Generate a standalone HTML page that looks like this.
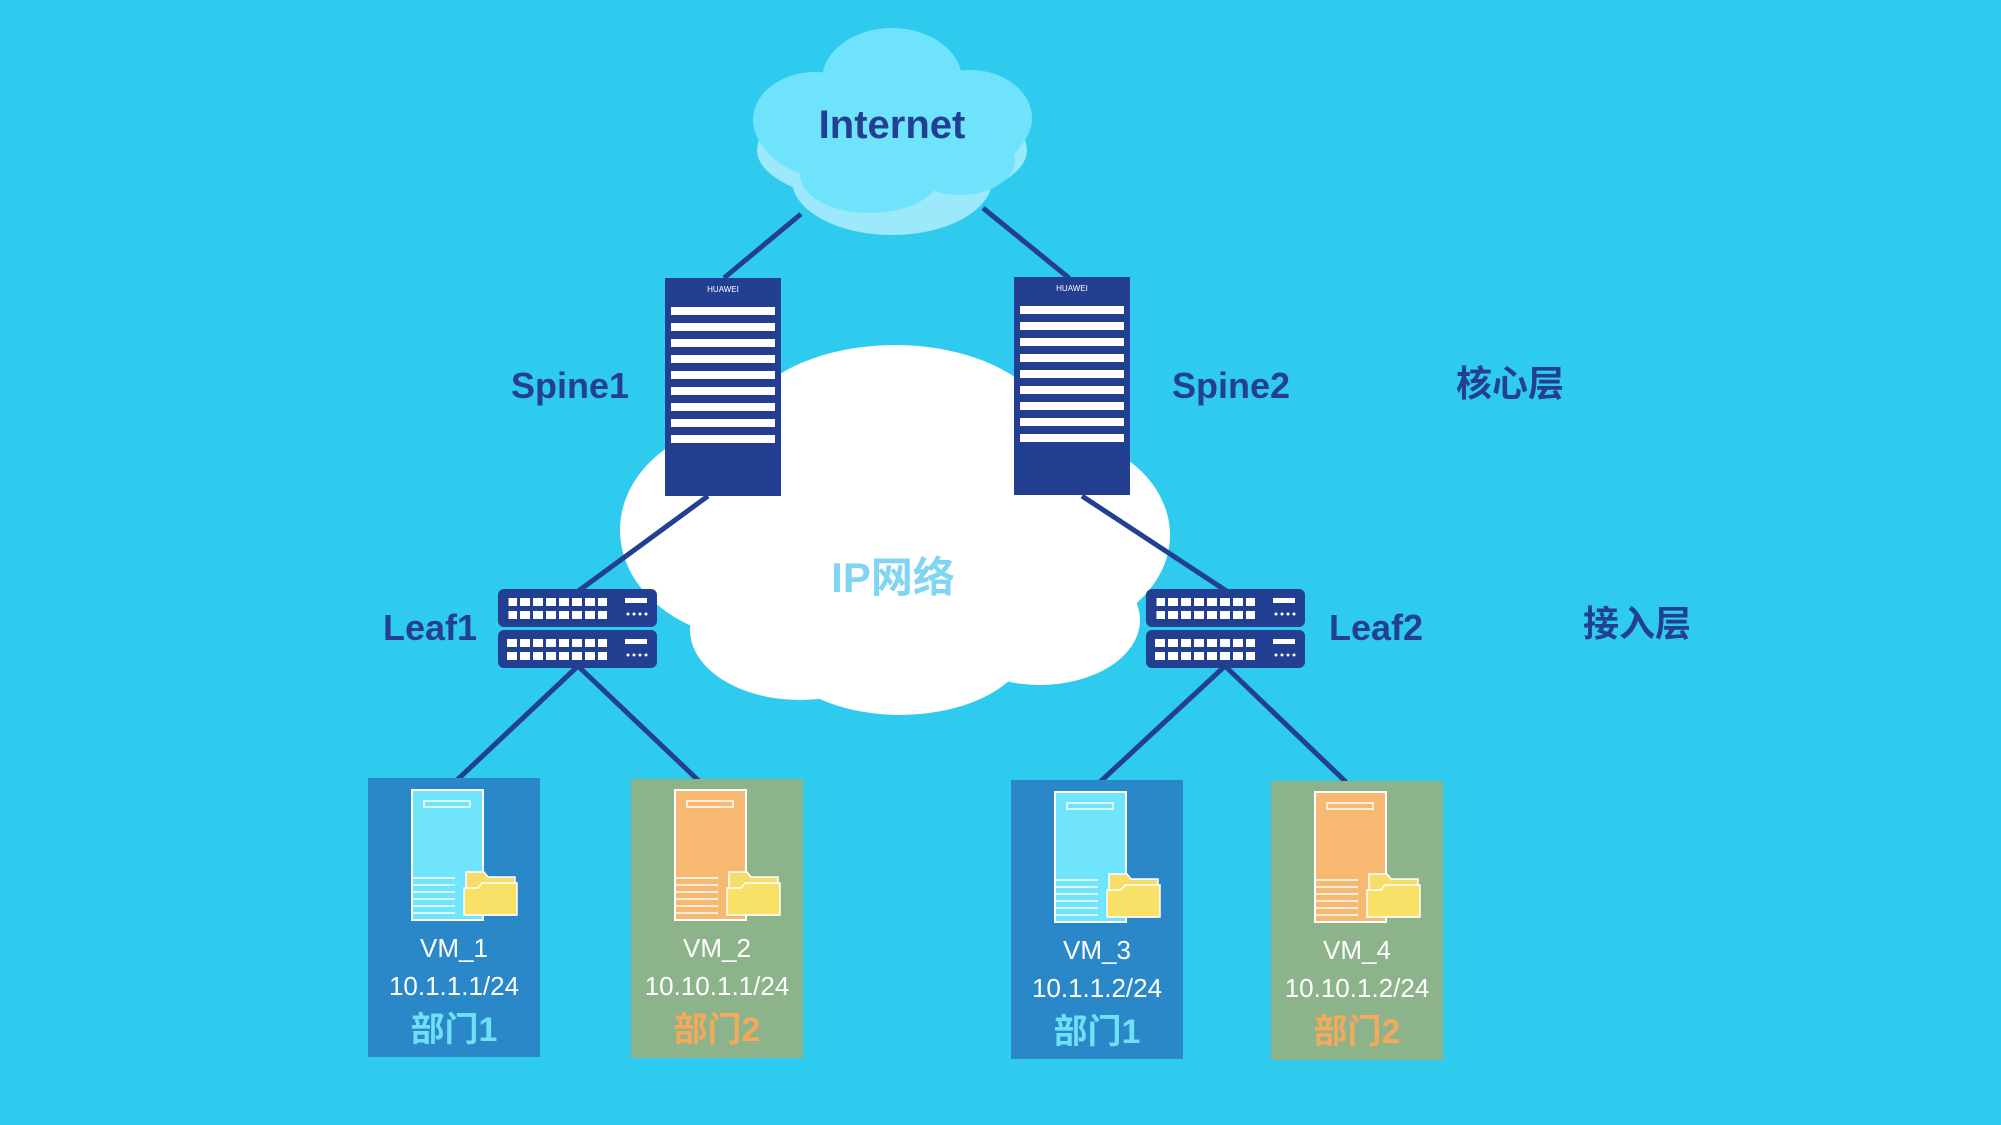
<!DOCTYPE html>
<html><head><meta charset="utf-8"><style>
html,body{margin:0;padding:0;background:#2ecbef;}
svg{display:block}
text{font-family:"Liberation Sans","Noto Sans CJK SC",sans-serif;}
</style></head><body>
<svg width="2001" height="1125" viewBox="0 0 2001 1125">
<rect width="2001" height="1125" fill="#2ecbef"/>
<!-- IP cloud -->
<g fill="#ffffff">
<ellipse cx="895" cy="440" rx="160" ry="95"/>
<ellipse cx="760" cy="530" rx="140" ry="110"/>
<ellipse cx="1030" cy="535" rx="140" ry="105"/>
<ellipse cx="800" cy="630" rx="110" ry="70"/>
<ellipse cx="900" cy="640" rx="130" ry="75"/>
<ellipse cx="1040" cy="620" rx="100" ry="65"/>
<ellipse cx="895" cy="530" rx="220" ry="150"/>
</g>
<text x="893" y="592" font-size="42" fill="#7fd5f2" text-anchor="middle" font-weight="bold">IP网络</text>
<!-- Internet cloud -->
<g fill="#9be9fb">
<ellipse cx="892" cy="150" rx="135" ry="55"/>
<ellipse cx="892" cy="180" rx="100" ry="55"/>
</g>
<g fill="#6fe3fb">
<ellipse cx="892" cy="80" rx="70" ry="52"/>
<ellipse cx="815" cy="120" rx="62" ry="48"/>
<ellipse cx="970" cy="118" rx="62" ry="48"/>
<ellipse cx="892" cy="138" rx="130" ry="50"/>
<ellipse cx="870" cy="175" rx="70" ry="38"/>
<ellipse cx="960" cy="160" rx="55" ry="35"/>
</g>
<text x="892" y="138" font-size="40" fill="#233f91" text-anchor="middle" font-weight="bold">Internet</text>
<!-- lines -->
<g stroke="#233f91" stroke-width="5" fill="none">
<line x1="801" y1="214" x2="724" y2="278"/>
<line x1="983" y1="208" x2="1069" y2="278"/>
<line x1="708" y1="496" x2="577" y2="592"/>
<line x1="1082" y1="496" x2="1228" y2="592"/>
<line x1="578" y1="666" x2="455" y2="782"/>
<line x1="578" y1="666" x2="700" y2="782"/>
<line x1="1225" y1="666" x2="1100" y2="782"/>
<line x1="1225" y1="666" x2="1346" y2="782"/>
</g>
<!-- spines -->
<g id="sp">
<rect x="665" y="278" width="116" height="218" fill="#233f91"/>
<text x="723" y="292" font-size="8" fill="#fff" text-anchor="middle">HUAWEI</text>
<g fill="#fff">
<rect x="671" y="307" width="104" height="8"/><rect x="671" y="323" width="104" height="8"/>
<rect x="671" y="339" width="104" height="8"/><rect x="671" y="355" width="104" height="8"/>
<rect x="671" y="371" width="104" height="8"/><rect x="671" y="387" width="104" height="8"/>
<rect x="671" y="403" width="104" height="8"/><rect x="671" y="419" width="104" height="8"/>
<rect x="671" y="435" width="104" height="8"/>
</g>
</g>
<use href="#sp" x="349" y="-1"/>
<!-- leaf switches -->
<g id="lf">
<rect x="498" y="589" width="159" height="38" rx="6" fill="#233f91"/>
<rect x="498" y="630" width="159" height="38" rx="6" fill="#233f91"/>
<g fill="#fff">
<rect x="507" y="598" width="100" height="8"/><rect x="507" y="611" width="100" height="8"/>
<rect x="507" y="639" width="100" height="8"/><rect x="507" y="652" width="100" height="8"/>
<rect x="625" y="598" width="22" height="5"/><rect x="625" y="639" width="22" height="5"/>
</g>
<g stroke="#233f91" stroke-width="3">
<line x1="507" y1="594" x2="507" y2="624" stroke-dasharray="0"/>
</g>
<g fill="#233f91">
<rect x="517" y="598" width="3" height="22"/><rect x="530" y="598" width="3" height="22"/><rect x="543" y="598" width="3" height="22"/><rect x="556" y="598" width="3" height="22"/><rect x="569" y="598" width="3" height="22"/><rect x="582" y="598" width="3" height="22"/><rect x="595" y="598" width="3" height="22"/>
<rect x="517" y="639" width="3" height="22"/><rect x="530" y="639" width="3" height="22"/><rect x="543" y="639" width="3" height="22"/><rect x="556" y="639" width="3" height="22"/><rect x="569" y="639" width="3" height="22"/><rect x="582" y="639" width="3" height="22"/><rect x="595" y="639" width="3" height="22"/>
<rect x="507" y="606" width="100" height="5"/><rect x="507" y="647" width="100" height="5"/>
</g>
<g fill="#fff"><circle cx="628" cy="614" r="1.5"/><circle cx="634" cy="614" r="1.5"/><circle cx="640" cy="614" r="1.5"/><circle cx="646" cy="614" r="1.5"/>
<circle cx="628" cy="655" r="1.5"/><circle cx="634" cy="655" r="1.5"/><circle cx="640" cy="655" r="1.5"/><circle cx="646" cy="655" r="1.5"/></g>
</g>
<use href="#lf" x="648" y="0"/>
<!-- labels -->
<g font-size="36" fill="#233f91" font-weight="bold" text-anchor="middle">
<text x="570" y="398">Spine1</text>
<text x="1231" y="398">Spine2</text>
<text x="1510" y="396">核心层</text>
<text x="430" y="640">Leaf1</text>
<text x="1376" y="640">Leaf2</text>
<text x="1637" y="636">接入层</text>
</g>
<!-- VMs -->
<g id="vm1">
<rect x="368" y="778" width="172" height="279" fill="#2a87c8"/>
<rect x="412" y="790" width="71" height="130" fill="#6fe4fb" stroke="#fff" stroke-width="2"/>
<rect x="424" y="801" width="46" height="6" fill="none" stroke="#fff" stroke-width="1.5"/>
<g stroke="#fff" stroke-width="1.5"><line x1="413" y1="878" x2="455" y2="878"/><line x1="413" y1="885" x2="455" y2="885"/><line x1="413" y1="892" x2="455" y2="892"/><line x1="413" y1="899" x2="455" y2="899"/><line x1="413" y1="906" x2="455" y2="906"/><line x1="413" y1="913" x2="455" y2="913"/></g>
<path d="M466 872 h18 l4 5 h27 v38 h-49z" fill="#f6dc6a" stroke="#fff" stroke-width="1.5"/>
<path d="M464 888 h14 l4 -5 h35 v32 h-53z" fill="#f9e067" stroke="#fff" stroke-width="1.5"/>
<text x="454" y="957" font-size="26" fill="#fff" text-anchor="middle">VM_1</text>
<text x="454" y="995" font-size="26" fill="#fff" text-anchor="middle">10.1.1.1/24</text>
<text x="454" y="1041" font-size="34" fill="#6fe0f8" text-anchor="middle" font-weight="bold">部门1</text>
</g>
<g>
<rect x="631" y="779" width="172" height="279" fill="#8db38a"/>
<rect x="675" y="790" width="71" height="130" fill="#f7b972" stroke="#fff" stroke-width="2"/>
<rect x="687" y="801" width="46" height="6" fill="none" stroke="#fff" stroke-width="1.5"/>
<g stroke="#fff" stroke-width="1.5"><line x1="676" y1="878" x2="718" y2="878"/><line x1="676" y1="885" x2="718" y2="885"/><line x1="676" y1="892" x2="718" y2="892"/><line x1="676" y1="899" x2="718" y2="899"/><line x1="676" y1="906" x2="718" y2="906"/><line x1="676" y1="913" x2="718" y2="913"/></g>
<path d="M729 872 h18 l4 5 h27 v38 h-49z" fill="#f6dc6a" stroke="#fff" stroke-width="1.5"/>
<path d="M727 888 h14 l4 -5 h35 v32 h-53z" fill="#f9e067" stroke="#fff" stroke-width="1.5"/>
<text x="717" y="957" font-size="26" fill="#fff" text-anchor="middle">VM_2</text>
<text x="717" y="995" font-size="26" fill="#fff" text-anchor="middle">10.10.1.1/24</text>
<text x="717" y="1041" font-size="34" fill="#f5a95a" text-anchor="middle" font-weight="bold">部门2</text>
</g>
<g transform="translate(643,2)">
<rect x="368" y="778" width="172" height="279" fill="#2a87c8"/>
<rect x="412" y="790" width="71" height="130" fill="#6fe4fb" stroke="#fff" stroke-width="2"/>
<rect x="424" y="801" width="46" height="6" fill="none" stroke="#fff" stroke-width="1.5"/>
<g stroke="#fff" stroke-width="1.5"><line x1="413" y1="878" x2="455" y2="878"/><line x1="413" y1="885" x2="455" y2="885"/><line x1="413" y1="892" x2="455" y2="892"/><line x1="413" y1="899" x2="455" y2="899"/><line x1="413" y1="906" x2="455" y2="906"/><line x1="413" y1="913" x2="455" y2="913"/></g>
<path d="M466 872 h18 l4 5 h27 v38 h-49z" fill="#f6dc6a" stroke="#fff" stroke-width="1.5"/>
<path d="M464 888 h14 l4 -5 h35 v32 h-53z" fill="#f9e067" stroke="#fff" stroke-width="1.5"/>
<text x="454" y="957" font-size="26" fill="#fff" text-anchor="middle">VM_3</text>
<text x="454" y="995" font-size="26" fill="#fff" text-anchor="middle">10.1.1.2/24</text>
<text x="454" y="1041" font-size="34" fill="#6fe0f8" text-anchor="middle" font-weight="bold">部门1</text>
</g>
<g transform="translate(640,2)">
<rect x="631" y="779" width="172" height="279" fill="#8db38a"/>
<rect x="675" y="790" width="71" height="130" fill="#f7b972" stroke="#fff" stroke-width="2"/>
<rect x="687" y="801" width="46" height="6" fill="none" stroke="#fff" stroke-width="1.5"/>
<g stroke="#fff" stroke-width="1.5"><line x1="676" y1="878" x2="718" y2="878"/><line x1="676" y1="885" x2="718" y2="885"/><line x1="676" y1="892" x2="718" y2="892"/><line x1="676" y1="899" x2="718" y2="899"/><line x1="676" y1="906" x2="718" y2="906"/><line x1="676" y1="913" x2="718" y2="913"/></g>
<path d="M729 872 h18 l4 5 h27 v38 h-49z" fill="#f6dc6a" stroke="#fff" stroke-width="1.5"/>
<path d="M727 888 h14 l4 -5 h35 v32 h-53z" fill="#f9e067" stroke="#fff" stroke-width="1.5"/>
<text x="717" y="957" font-size="26" fill="#fff" text-anchor="middle">VM_4</text>
<text x="717" y="995" font-size="26" fill="#fff" text-anchor="middle">10.10.1.2/24</text>
<text x="717" y="1041" font-size="34" fill="#f5a95a" text-anchor="middle" font-weight="bold">部门2</text>
</g>
</svg>
</body></html>
